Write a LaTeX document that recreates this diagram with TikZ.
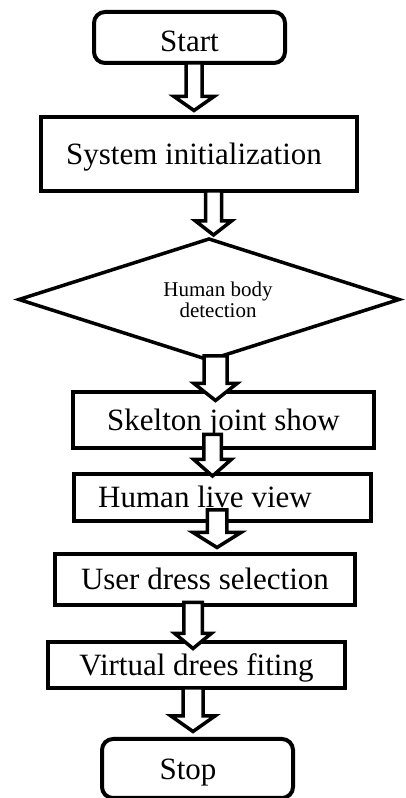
\documentclass[tikz,border=0pt]{standalone}
\usepackage{fontspec}
\setmainfont{Liberation Serif}
\usetikzlibrary{calc,shapes.geometric}
\tikzset{
  box/.style={draw, line width=4pt, outer sep=0pt, inner sep=0pt,
    font=\fontsize{31}{31}\selectfont, text height=21pt, text depth=0pt},
  term/.style={box, rounded corners=11pt},
  decision/.style={draw, diamond, aspect=3.14, line width=3.5pt, outer sep=0pt, inner sep=0pt,
    font=\fontsize{21}{21}\selectfont, align=center},
  barrow/.style={draw, fill=white, line width=3.5pt, line join=miter}
}
% #1 from, #2 to, #3 centre x, #4 start offset, #5 tip offset, #6 half shaft, #7 half head, #8 head length
\newcommand\blockarr[8]{%
  \draw[barrow] let \p1=(#1.south), \p2=(#2.north) in
    ({#3-#6},{\y1+(#4)}) -- ({#3+#6},{\y1+(#4)}) -- ({#3+#6},{\y2+(#5)+#8})
    -- ({#3+#7},{\y2+(#5)+#8}) -- (#3,{\y2+(#5)}) -- ({#3-#7},{\y2+(#5)+#8})
    -- ({#3-#6},{\y2+(#5)+#8}) -- cycle;}
\begin{document}
\begin{tikzpicture}[x=1pt,y=1pt]
\useasboundingbox (0,0) rectangle (406,798);
\node[term, minimum width=191pt, minimum height=51pt, text height=29pt] (start) at (189.5,760.5) {Start};
\node[box, minimum width=316pt, minimum height=74pt] (init) at (199,644) {System initialization\kern10pt};
\node[decision, minimum width=380pt, minimum height=121pt] (det) at (209,498.5) {\hspace*{18pt}Human body\\\hspace*{18pt}detection};
\node[box, minimum width=301pt, minimum height=56pt] (skel) at (223.5,378) {Skelton joint show};
\node[box, minimum width=297pt, minimum height=47pt] (live) at (222.5,300.5) {Human live view\kern35pt};
\node[box, minimum width=300pt, minimum height=51pt] (dress) at (205,218.5) {User dress selection};
\node[box, minimum width=297pt, minimum height=46pt] (fit) at (196.5,133) {Virtual drees fiting};
\node[term, minimum width=191pt, minimum height=59pt] (stop) at (197.5,29.5) {Stop\kern19pt};
\blockarr{start}{init}{194}{0}{6.5}{8}{20}{14}
\blockarr{init}{det}{213.5}{0}{4}{8}{18}{14}
\blockarr{det}{skel}{215.5}{4}{-8.5}{11.5}{21.5}{17}
\blockarr{skel}{live}{212.5}{13.5}{-2}{8.75}{18.75}{16.5}
\blockarr{live}{dress}{217}{11}{6.5}{9.75}{24}{15}
\blockarr{dress}{fit}{193}{2.5}{-6.5}{9.25}{18.25}{15}
\blockarr{fit}{stop}{193}{0}{7.5}{10}{22}{15.5}
\end{tikzpicture}
\end{document}
